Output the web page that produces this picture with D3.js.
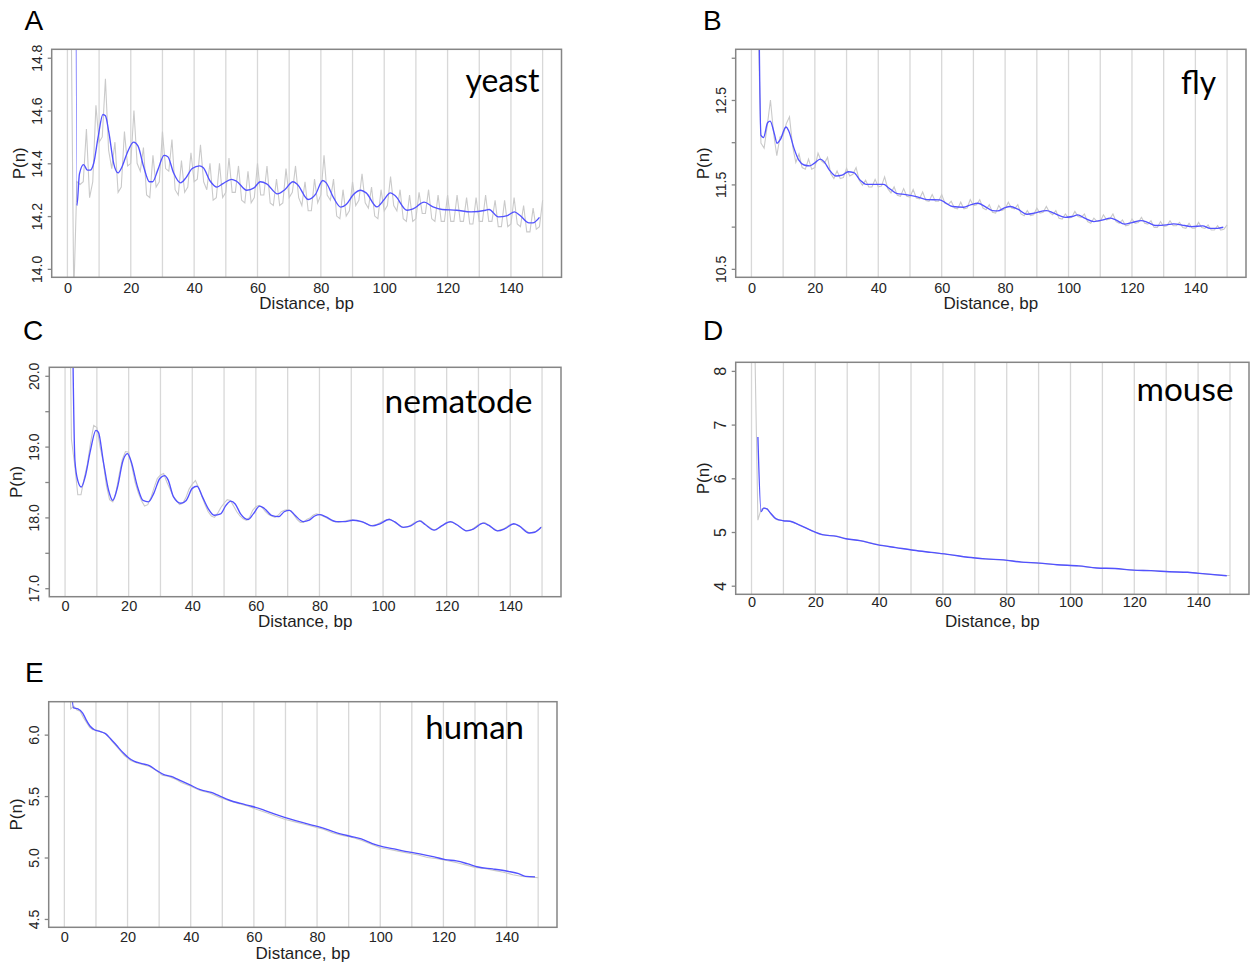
<!DOCTYPE html>
<html>
<head>
<meta charset="utf-8">
<script src="https://cdn.jsdelivr.net/npm/d3@7"></script>
<style>
  body { margin: 0; background: #fff; }
  svg { display: block; }
</style>
</head>
<body>
<svg id="fig" width="1250" height="964"></svg>
<script>
// ---- shared axis values ----
const distanceTicks = [0, 20, 40, 60, 80, 100, 120, 140];
const gridBreaks = [0, 10, 20, 30, 40, 50, 60, 70, 80, 90, 100, 110, 120, 130, 140, 150];
const distanceRange = [1, 150];

// ---- yeast ----
const yeastTicks = [14.0, 14.2, 14.4, 14.6, 14.8];
const yeastTickLabels = [14.0, 14.2, 14.4, 14.6, 14.8];
// raw P(n), one value per distance 1..150
const yeastRaw = [
  15.2, 13.9, 14.33, 14.32, 14.33, 14.53, 14.27, 14.33, 14.62, 14.48,
  14.50, 14.72, 14.45, 14.38, 14.48, 14.29, 14.31, 14.52, 14.39, 14.40,
  14.60, 14.40, 14.37, 14.46, 14.28, 14.27, 14.43, 14.31, 14.33, 14.52,
  14.38, 14.37, 14.49, 14.30, 14.28, 14.41, 14.29, 14.31, 14.44, 14.33,
  14.34, 14.47, 14.33, 14.30, 14.40, 14.26, 14.27, 14.40, 14.27, 14.29,
  14.42, 14.29, 14.29, 14.39, 14.26, 14.25, 14.37, 14.25, 14.27, 14.40,
  14.28, 14.28, 14.39, 14.25, 14.24, 14.34, 14.24, 14.25, 14.38, 14.27,
  14.29, 14.39, 14.27, 14.24, 14.33, 14.22, 14.22, 14.34, 14.25, 14.28,
  14.43, 14.28, 14.26, 14.34, 14.20, 14.19, 14.30, 14.20, 14.22, 14.33,
  14.24, 14.26, 14.36, 14.25, 14.23, 14.31, 14.20, 14.19, 14.30, 14.22,
  14.24, 14.35, 14.24, 14.22, 14.30, 14.19, 14.18, 14.28, 14.18, 14.19,
  14.29, 14.21, 14.21, 14.30, 14.19, 14.18, 14.28, 14.18, 14.18, 14.28,
  14.18, 14.18, 14.28, 14.18, 14.18, 14.27, 14.17, 14.17, 14.27, 14.18,
  14.18, 14.28, 14.18, 14.18, 14.26, 14.16, 14.16, 14.26, 14.16, 14.17,
  14.27, 14.17, 14.16, 14.24, 14.14, 14.14, 14.23, 14.15, 14.16, 14.26
];
// smoothed P(n), [distance, value]
const yeastSmooth = [
  [2, 20.2], [3, 14.24], [3.8, 14.36], [5.1, 14.395], [6.3, 14.374], [7.2, 14.374],
  [8.3, 14.40], [9.7, 14.50], [11.2, 14.585], [12, 14.58], [13.1, 14.516], [14.6, 14.40],
  [16, 14.364], [17.1, 14.383], [18.9, 14.44], [20.9, 14.48], [22.3, 14.465], [24, 14.39],
  [25.9, 14.33], [26.9, 14.33], [28.6, 14.377], [30.5, 14.43], [31.7, 14.425], [33.5, 14.364],
  [35.7, 14.326], [37.4, 14.345], [39.4, 14.38], [41.7, 14.39], [42.9, 14.383], [45.1, 14.332],
  [47.2, 14.31], [49.1, 14.323], [51.8, 14.339], [53.4, 14.332], [56.6, 14.298], [58.9, 14.307],
  [60.9, 14.33], [62.9, 14.322], [66.3, 14.284], [68.6, 14.30], [71.2, 14.33], [72.6, 14.32],
  [76, 14.263], [78.3, 14.282], [80.6, 14.335], [81.7, 14.326], [84, 14.27], [86.3, 14.234],
  [88, 14.244], [90.3, 14.282], [92.6, 14.298], [94.3, 14.288], [97.7, 14.235], [100, 14.263],
  [101.9, 14.288], [103.4, 14.278], [107.2, 14.222], [109.1, 14.227], [112.6, 14.253], [115.4, 14.235],
  [118.3, 14.225], [122.9, 14.222], [127.4, 14.216], [132, 14.222], [133.1, 14.225], [136, 14.197],
  [138.9, 14.202], [141.1, 14.216], [142.9, 14.202], [145.7, 14.174], [146.9, 14.174], [149, 14.195]
];

// ---- fly ----
const flyTicks = [10.5, 11.0, 11.5, 12.0, 12.5, 13.0];
const flyTickLabels = [10.5, 11.5, 12.5];
const flyRaw = [
  15.0, 13.6, 11.99, 11.93, 12.20, 12.50, 12.10, 11.84, 12.06, 12.08,
  12.22, 12.30, 11.95, 11.76, 11.86, 11.70, 11.68, 11.80, 11.68, 11.70,
  11.87, 11.78, 11.75, 11.82, 11.63, 11.57, 11.66, 11.57, 11.58, 11.69,
  11.60, 11.62, 11.70, 11.55, 11.49, 11.55, 11.47, 11.47, 11.56, 11.47,
  11.48, 11.59, 11.45, 11.40, 11.47, 11.37, 11.36, 11.45, 11.36, 11.35,
  11.44, 11.34, 11.33, 11.41, 11.31, 11.30, 11.38, 11.30, 11.30, 11.38,
  11.28, 11.26, 11.30, 11.22, 11.21, 11.29, 11.21, 11.22, 11.32, 11.25,
  11.26, 11.32, 11.22, 11.20, 11.26, 11.17, 11.16, 11.25, 11.19, 11.21,
  11.29, 11.22, 11.21, 11.26, 11.15, 11.13, 11.19, 11.13, 11.14, 11.22,
  11.16, 11.17, 11.24, 11.17, 11.14, 11.19, 11.10, 11.09, 11.15, 11.10,
  11.11, 11.18, 11.12, 11.11, 11.15, 11.06, 11.04, 11.10, 11.06, 11.06,
  11.14, 11.08, 11.09, 11.15, 11.06, 11.04, 11.08, 11.01, 11.02, 11.09,
  11.04, 11.05, 11.11, 11.04, 11.03, 11.07, 10.99, 10.99, 11.06, 11.00,
  11.01, 11.07, 11.01, 11.01, 11.05, 10.99, 10.98, 11.04, 10.98, 10.98,
  11.05, 10.99, 10.98, 11.02, 10.96, 10.96, 11.01, 10.96, 10.97, 11.02
];
const flySmooth = [
  [2, 15.1], [3, 12.08], [3.8, 12.055], [5.1, 12.23], [5.9, 12.25], [7.2, 12.105],
  [8.1, 11.987], [9.1, 12.03], [10.9, 12.18], [11.8, 12.13], [13.4, 11.93], [14.9, 11.79],
  [16.6, 11.73], [18.3, 11.72], [19.8, 11.75], [21.7, 11.80], [22.9, 11.77], [24.6, 11.67],
  [26.6, 11.60], [28.6, 11.61], [30.5, 11.65], [32.3, 11.64], [34.3, 11.55], [36.2, 11.50],
  [39.4, 11.50], [41.7, 11.50], [43.4, 11.455], [45.7, 11.395], [48.6, 11.38], [52, 11.356],
  [55.4, 11.32], [59.4, 11.317], [61.1, 11.285], [63.4, 11.238], [66.9, 11.23], [69.1, 11.257],
  [71.4, 11.277], [73.7, 11.238], [76, 11.19], [77.7, 11.186], [80, 11.226], [81.7, 11.238],
  [84, 11.206], [86.9, 11.147], [89.1, 11.159], [92, 11.186], [93.1, 11.19], [95.4, 11.159],
  [98.9, 11.11], [101.1, 11.12], [102.9, 11.139], [105.1, 11.10], [108, 11.06], [110.9, 11.08],
  [113.1, 11.10], [114.9, 11.08], [117.7, 11.03], [120, 11.048], [122.9, 11.072], [125.1, 11.048],
  [127.4, 11.013], [130.9, 11.02], [133.1, 11.033], [136.6, 11.013], [138.9, 11.0], [142.3, 11.009],
  [144.6, 10.98], [146.9, 10.98], [148.8, 10.993]
];

// ---- nematode ----
const nematodeTicks = [17.0, 17.5, 18.0, 18.5, 19.0, 19.5, 20.0];
const nematodeTickLabels = [17.0, 18.0, 19.0, 20.0];
const nematodeRaw = [
  [1, 23], [2, 19.1], [3, 18.75], [4, 18.32], [5, 18.32], [6, 18.55], [7, 18.75], [8, 19.05],
  [9, 19.3], [10, 19.27], [11, 19.0], [12, 18.78], [13, 18.45], [14, 18.25], [15, 18.22],
  [16, 18.35], [17, 18.6], [18, 18.82], [19, 18.93], [20, 18.92], [21, 18.72], [22, 18.5],
  [23, 18.35], [24, 18.24], [25, 18.16], [26, 18.18], [27, 18.28], [28, 18.42], [29, 18.55],
  [30, 18.6], [31, 18.62], [32, 18.5], [33, 18.4], [34, 18.3], [35, 18.24], [36, 18.18],
  [37, 18.2], [38, 18.28], [39, 18.4], [40, 18.47], [41, 18.52], [42, 18.42], [43, 18.3],
  [44, 18.18], [45, 18.08], [46, 18.02], [47, 18.0], [48, 18.06], [49, 18.14], [50, 18.2],
  [51, 18.25], [52, 18.24], [53, 18.16], [54, 18.08], [55, 18.02], [56, 17.98], [57, 17.96],
  [58, 18.0], [59, 18.1], [60, 18.15], [61, 18.17], [62, 18.14], [63, 18.08], [64, 18.04],
  [65, 18.02], [66, 18.0], [67, 18.03], [68, 18.08], [69, 18.1], [70, 18.11], [71, 18.09],
  [72, 18.03], [73, 17.97], [74, 17.93], [75, 17.93], [76, 17.97], [77, 17.99], [78, 18.03],
  [79, 18.05], [80, 18.04], [82, 18.0], [84, 17.95], [86, 17.93], [88, 17.95], [90, 17.97],
  [92, 17.95], [94, 17.93], [96, 17.88], [98, 17.9], [100, 17.95], [102, 17.98], [104, 17.92],
  [106, 17.86], [108, 17.87], [110, 17.93], [112, 17.95], [114, 17.88], [116, 17.82], [118, 17.86],
  [120, 17.93], [122, 17.93], [124, 17.87], [126, 17.81], [128, 17.83], [130, 17.9], [132, 17.93],
  [134, 17.86], [136, 17.81], [138, 17.84], [140, 17.9], [142, 17.9], [144, 17.84], [146, 17.78],
  [148, 17.8], [150, 17.87]
];
const nematodeSmooth = [
  [2, 22.1], [3.1, 18.80], [4, 18.52], [5.1, 18.43], [6.3, 18.57], [8, 18.95], [9.7, 19.23],
  [10.5, 19.20], [12, 18.80], [13.7, 18.38], [15, 18.24], [16.5, 18.43], [18.2, 18.80],
  [19.6, 18.90], [20.7, 18.80], [22.8, 18.43], [24.5, 18.24], [26.2, 18.22], [27.9, 18.34],
  [29.8, 18.55], [31.3, 18.59], [32.4, 18.53], [34.1, 18.29], [36.4, 18.20], [38.1, 18.24],
  [40, 18.41], [41.5, 18.44], [43.2, 18.29], [45, 18.125], [46.9, 18.03], [48.9, 18.05],
  [50.6, 18.17], [52.1, 18.23], [53.5, 18.19], [55.2, 18.05], [57.5, 17.97], [59.2, 18.05],
  [61.2, 18.16], [62.6, 18.13], [64.9, 18.03], [67.2, 18.01], [68.9, 18.08], [70.6, 18.10],
  [72.3, 18.03], [74.9, 17.94], [76.8, 17.96], [78.5, 18.02], [80.2, 18.04], [81.9, 18.01],
  [85.4, 17.94], [88.2, 17.94], [90.5, 17.96], [93.3, 17.94], [96.7, 17.88], [99, 17.91],
  [101.9, 17.97], [103.6, 17.94], [106.4, 17.86], [108.7, 17.88], [111.5, 17.95], [113.2, 17.90],
  [116.1, 17.82], [118.4, 17.88], [121.2, 17.94], [123.1, 17.90], [126.3, 17.81], [128.6, 17.84],
  [131.5, 17.92], [133.2, 17.89], [136, 17.81], [138.3, 17.84], [141.1, 17.91], [142.8, 17.88],
  [145.9, 17.78], [147.7, 17.79], [149.7, 17.86]
];

// ---- mouse ----
const mouseTicks = [4, 5, 6, 7, 8];
const mouseTickLabels = [4, 5, 6, 7, 8];
const mouseRaw = [
  [1, 8.6], [2, 5.22], [3, 5.42], [4, 5.45], [5, 5.43], [6, 5.34], [7, 5.27], [8, 5.23],
  [10, 5.21], [12, 5.2], [15, 5.13], [19, 5.02], [22, 4.95], [27, 4.92], [30, 4.87], [34, 4.84],
  [40, 4.76], [45, 4.71], [51, 4.66], [56, 4.62], [62, 4.58], [68, 4.53], [73, 4.5], [79, 4.48],
  [85, 4.44], [90, 4.42], [96, 4.39], [102, 4.37], [108, 4.33], [114, 4.32], [120, 4.29],
  [125, 4.28], [131, 4.26], [137, 4.25], [142, 4.22], [148, 4.19], [150, 4.19]
];
const mouseSmooth = [
  [2, 6.77], [3, 5.38], [3.8, 5.445], [4.8, 5.43], [6, 5.35], [7.6, 5.25], [9.9, 5.21],
  [12.1, 5.20], [14.9, 5.135], [19.4, 5.01], [22.2, 4.95], [26.7, 4.92], [29.6, 4.875],
  [34, 4.84], [39.7, 4.76], [45.3, 4.71], [50.9, 4.66], [56.5, 4.62], [62.1, 4.58],
  [67.8, 4.53], [73.4, 4.50], [79, 4.48], [84.6, 4.44], [90.2, 4.42], [95.8, 4.39],
  [102.6, 4.37], [108.3, 4.33], [113.9, 4.32], [119.6, 4.29], [125.3, 4.28], [131, 4.26],
  [136.7, 4.25], [142.3, 4.22], [149, 4.185]
];

// ---- human ----
const humanTicks = [4.5, 5.0, 5.5, 6.0];
const humanTickLabels = [4.5, 5.0, 5.5, 6.0];
const humanRaw = [
  [1, 7.2], [2, 6.21], [3, 6.23], [4, 6.2], [5, 6.19], [6, 6.14], [7, 6.1], [8, 6.06], [9, 6.04],
  [10, 6.04], [12, 6.02], [13, 6.01], [15, 5.95], [17, 5.89], [19, 5.83], [21, 5.79], [23, 5.77],
  [25, 5.755], [27, 5.74], [29, 5.71], [31, 5.67], [33, 5.66], [35, 5.64], [37, 5.61], [40, 5.58],
  [43, 5.545], [46, 5.525], [49, 5.49], [52, 5.465], [55, 5.44], [58, 5.42], [61, 5.39],
  [64, 5.365], [67, 5.335], [70, 5.31], [73, 5.29], [76, 5.27], [79, 5.25], [82, 5.23], [85, 5.2],
  [88, 5.18], [91, 5.165], [94, 5.14], [97, 5.11], [100, 5.08], [103, 5.065], [106, 5.05],
  [109, 5.035], [112, 5.02], [115, 5.0], [118, 4.99], [121, 4.975], [124, 4.96], [127, 4.94],
  [130, 4.92], [133, 4.91], [136, 4.895], [139, 4.88], [142, 4.86], [145, 4.845], [148, 4.84],
  [150, 4.835]
];
const humanSmooth = [
  [2, 6.47], [2.9, 6.217], [4.3, 6.21], [5.8, 6.176], [6.9, 6.12], [8.1, 6.07], [9.5, 6.04],
  [11.2, 6.027], [13, 6.008], [14.7, 5.965], [16.5, 5.913], [18.7, 5.85], [20.4, 5.81],
  [22.2, 5.783], [24.5, 5.764], [26.9, 5.748], [29.1, 5.71], [31.5, 5.675], [33.8, 5.66],
  [36.1, 5.634], [39.6, 5.593], [43, 5.552], [46.5, 5.53], [48.9, 5.504], [52.3, 5.466],
  [55.8, 5.44], [59.3, 5.417], [62.8, 5.39], [66.2, 5.357], [69.7, 5.327], [73.2, 5.30],
  [77.8, 5.268], [81.2, 5.246], [85.8, 5.205], [90.5, 5.173], [94, 5.151], [97.5, 5.113],
  [101, 5.086], [104.4, 5.07], [107.9, 5.05], [112.5, 5.03], [117.1, 5.005], [120.6, 4.983],
  [124.1, 4.972], [127.5, 4.95], [131, 4.923], [135.6, 4.907], [140.3, 4.888], [143.8, 4.869],
  [146, 4.847], [149, 4.842]
];

// ---- panel layout ----
const panels = [
  { id: "A", name: "yeast", raw: yeastRaw.map((v, i) => [i + 1, v]), smooth: yeastSmooth,
    yLim: [14.0, 14.8], ticks: yeastTicks, labels: yeastTickLabels, fmt: d3.format(".1f"),
    box: { l: 51.7, r: 561.5, t: 49.3, b: 277.3 }, letter: [24.5, 30], yTickSize: 14,
    tag: { right: 539.5, base: 92, width: 74 }, xTickBase: 292.7, xTitleBase: 308.6 },
  { id: "B", name: "fly", raw: flyRaw.map((v, i) => [i + 1, v]), smooth: flySmooth,
    yLim: [10.5, 13.0], ticks: flyTicks, labels: flyTickLabels, fmt: d3.format(".1f"),
    box: { l: 735.7, r: 1246, t: 49.3, b: 277.3 }, letter: [703, 30], yTickSize: 14,
    tag: { right: 1216, base: 94, width: 35 }, xTickBase: 292.7, xTitleBase: 308.8 },
  { id: "C", name: "nematode", raw: nematodeRaw, smooth: nematodeSmooth,
    yLim: [17.0, 20.0], ticks: nematodeTicks, labels: nematodeTickLabels, fmt: d3.format(".1f"),
    box: { l: 49.3, r: 561, t: 367.3, b: 596.7 }, letter: [23, 340], yTickSize: 14,
    tag: { right: 532.5, base: 413, width: 148 }, xTickBase: 611, xTitleBase: 626.5 },
  { id: "D", name: "mouse", raw: mouseRaw, smooth: mouseSmooth,
    yLim: [4, 8], ticks: mouseTicks, labels: mouseTickLabels, fmt: d3.format("d"),
    box: { l: 735.7, r: 1249, t: 362.3, b: 594.3 }, letter: [703, 340], yTickSize: 16,
    tag: { right: 1233.5, base: 401, width: 97 }, xTickBase: 607.5, xTitleBase: 626.7 },
  { id: "E", name: "human", raw: humanRaw, smooth: humanSmooth,
    yLim: [4.5, 6.2], ticks: humanTicks, labels: humanTickLabels, fmt: d3.format(".1f"),
    box: { l: 48.7, r: 557, t: 701.7, b: 927.3 }, letter: [25, 682], yTickSize: 14,
    tag: { right: 524, base: 739.3, width: 98.7 }, xTickBase: 942.3, xTitleBase: 958.8 }
];

const svg = d3.select("#fig");
const sansFont = "'Liberation Sans', Arial, Helvetica, sans-serif";
const tagFont = "Lato, 'Open Sans', sans-serif";

// R-style axis range: data range padded by 4% on each side
function padded(lo, hi) {
  const e = 0.04 * (hi - lo);
  return [lo - e, hi + e];
}

panels.forEach(p => {
  const { box } = p;
  const g = svg.append("g").attr("class", "panel panel-" + p.id);

  const x = d3.scaleLinear().domain(padded(distanceRange[0], distanceRange[1])).range([box.l, box.r]);
  const y = d3.scaleLinear().domain(padded(p.yLim[0], p.yLim[1])).range([box.b, box.t]);

  const clipId = "clip-" + p.id;
  g.append("clipPath").attr("id", clipId)
    .append("rect")
    .attr("x", box.l).attr("y", box.t)
    .attr("width", box.r - box.l).attr("height", box.b - box.t);

  // vertical reference lines every 10 bp
  g.append("g").attr("clip-path", `url(#${clipId})`)
    .selectAll("line").data(gridBreaks).join("line")
    .attr("x1", d => x(d)).attr("x2", d => x(d))
    .attr("y1", box.t).attr("y2", box.b)
    .attr("stroke", "#d8d8d8").attr("stroke-width", 1.3);

  const plot = g.append("g").attr("clip-path", `url(#${clipId})`);

  // raw profile
  plot.append("path")
    .datum(p.raw)
    .attr("fill", "none")
    .attr("stroke", "#cacaca")
    .attr("stroke-width", 1.1)
    .attr("d", d3.line().x(d => x(d[0])).y(d => y(d[1])));

  // smoothed profile
  plot.append("path")
    .datum(p.smooth)
    .attr("fill", "none")
    .attr("stroke", "#5252ff")
    .attr("stroke-width", 1.35)
    .attr("stroke-linejoin", "round")
    .attr("d", d3.line().curve(d3.curveMonotoneX).x(d => x(d[0])).y(d => y(d[1])));

  // frame
  g.append("rect")
    .attr("x", box.l).attr("y", box.t)
    .attr("width", box.r - box.l).attr("height", box.b - box.t)
    .attr("fill", "none").attr("stroke", "#858585").attr("stroke-width", 1.5);

  // y axis: ticks with labels parallel to the axis
  const yAxis = g.append("g")
    .attr("transform", `translate(${box.l},0)`)
    .call(d3.axisLeft(y).tickValues(p.ticks).tickSize(4)
      .tickFormat(d => p.labels.some(v => Math.abs(v - d) < 1e-9) ? p.fmt(d) : ""));
  yAxis.select(".domain").remove();
  yAxis.selectAll(".tick line").attr("stroke", "#858585").attr("stroke-width", 1.3);
  yAxis.selectAll(".tick text")
    .attr("transform", "rotate(-90)")
    .attr("x", 0).attr("y", -10).attr("dy", 0)
    .attr("text-anchor", "middle")
    .attr("fill", "#262626")
    .style("font-family", sansFont).style("font-size", p.yTickSize + "px");

  // x axis labels
  const xAxis = g.append("g")
    .attr("transform", `translate(0,${box.b})`)
    .call(d3.axisBottom(x).tickValues(distanceTicks).tickSize(0).tickFormat(d3.format("d")));
  xAxis.select(".domain").remove();
  xAxis.selectAll(".tick text")
    .attr("y", p.xTickBase - box.b).attr("dy", 0)
    .attr("fill", "#262626")
    .style("font-family", sansFont).style("font-size", "14.5px");

  // axis titles
  g.append("text")
    .attr("x", (box.l + box.r) / 2).attr("y", p.xTitleBase)
    .attr("text-anchor", "middle")
    .attr("fill", "#1e1e1e")
    .style("font-family", sansFont).style("font-size", "17px")
    .text("Distance, bp");

  const ty = (box.t + box.b) / 2;
  const tx = box.l - 27;
  g.append("text")
    .attr("transform", `translate(${tx},${ty}) rotate(-90)`)
    .attr("text-anchor", "middle")
    .attr("fill", "#1e1e1e")
    .style("font-family", sansFont).style("font-size", "17px")
    .text("P(n)");

  // organism name
  g.append("text")
    .attr("x", p.tag.right - p.tag.width).attr("y", p.tag.base)
    .attr("textLength", p.tag.width)
    .attr("lengthAdjust", "spacingAndGlyphs")
    .attr("fill", "#000")
    .style("font-family", tagFont).style("font-size", "32px")
    .text(p.name);

  // panel letter
  svg.append("text")
    .attr("x", p.letter[0]).attr("y", p.letter[1])
    .attr("fill", "#000")
    .style("font-family", sansFont).style("font-size", "28px")
    .text(p.id);
});
</script>
</body>
</html>
